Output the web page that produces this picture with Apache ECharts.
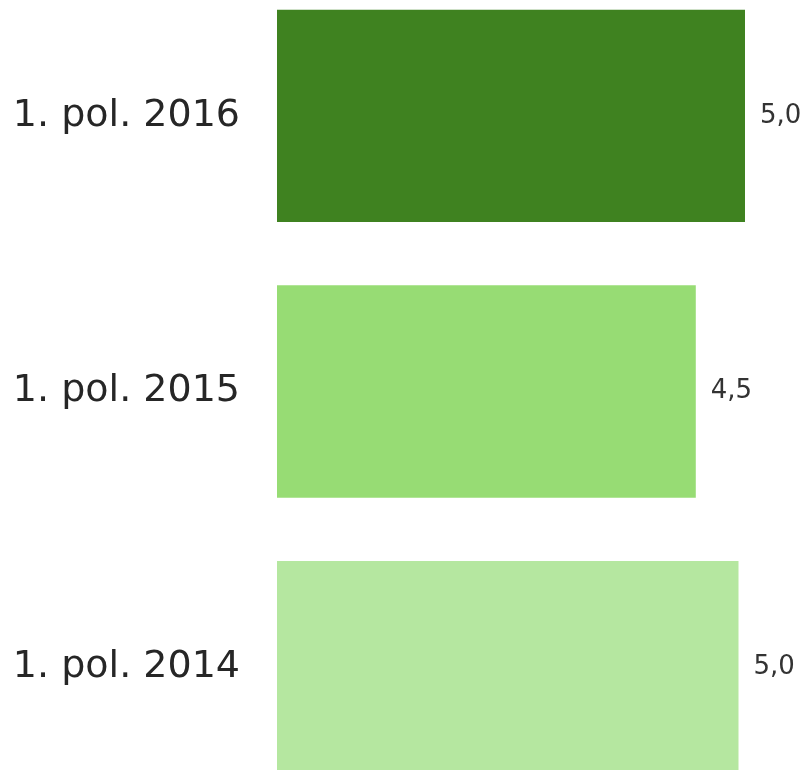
<!DOCTYPE html>
<html>
<head>
<meta charset="utf-8">
<script src="https://cdn.jsdelivr.net/npm/echarts@6/dist/echarts.min.js"></script>
<style>html,body{margin:0;padding:0;background:#fff;}#c{width:809px;height:770px;}</style>
</head>
<body>
<div id="c"></div>
<script>
var categories = ['1. pol. 2016', '1. pol. 2015', '1. pol. 2014'];
var values = [5.04, 4.51, 4.97];
var barColors = ['#3f8220', '#97dc74', '#b5e7a0'];

var chart = echarts.init(document.getElementById('c'));
chart.setOption({
  animation: false,
  grid: { left: 277, right: 12, top: -22, bottom: -35, containLabel: false, outerBoundsMode: 'none' },
  xAxis: { type: 'value', min: 0, max: 5.6, show: false },
  yAxis: {
    type: 'category', data: categories, inverse: true,
    axisLine: { show: false }, axisTick: { show: false }, splitLine: { show: false },
    axisLabel: { fontFamily: 'DejaVu Sans', fontSize: 38, color: '#262626', margin: 37 }
  },
  series: [{
    type: 'bar',
    barCategoryGap: '23%',
    data: values.map(function (v, i) { return { value: v, itemStyle: { color: barColors[i] } }; }),
    label: {
      show: true, position: 'right', distance: 15,
      fontFamily: 'DejaVu Sans', fontSize: 26, color: '#333',
      formatter: function (p) { return p.value.toFixed(1).replace('.', ','); }
    }
  }]
});
</script>
</body>
</html>
